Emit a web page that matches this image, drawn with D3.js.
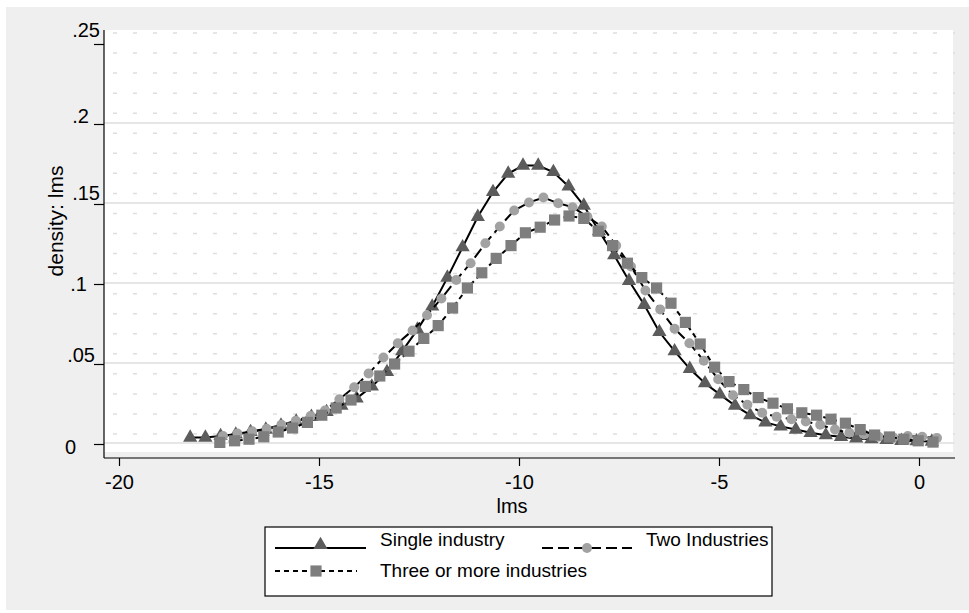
<!DOCTYPE html>
<html>
<head>
<meta charset="utf-8">
<script src="https://cdn.jsdelivr.net/npm/d3@7"></script>
<style>
body { margin: 0; background: #fff; }
text { font-family: "Liberation Sans", Arial, sans-serif; fill: #000; }
</style>
</head>
<body>
<svg id="chart" width="969" height="613"></svg>
<script>
// kernel density estimates (50 grid points each)
var singleX = [-18.22,-17.84,-17.46,-17.08,-16.71,-16.33,-15.95,-15.57,-15.19,-14.81,
	-14.44,-14.06,-13.68,-13.30,-12.92,-12.54,-12.17,-11.79,-11.41,-11.03,
	-10.65,-10.27,-9.90,-9.52,-9.14,-8.76,-8.38,-8.00,-7.62,-7.25,
	-6.87,-6.49,-6.11,-5.73,-5.35,-4.98,-4.60,-4.22,-3.84,-3.46,
	-3.08,-2.71,-2.33,-1.95,-1.57,-1.19,-0.81,-0.44,-0.06,0.32];
var singleY = [0.004,0.004,0.005,0.006,0.0075,0.009,0.0115,0.014,0.017,0.020,
	0.024,0.0285,0.036,0.045,0.058,0.0715,0.086,0.104,0.123,0.142,
	0.1575,0.169,0.174,0.174,0.170,0.161,0.149,0.133,0.118,0.102,
	0.087,0.070,0.058,0.047,0.038,0.031,0.024,0.018,0.0135,0.011,
	0.009,0.007,0.0055,0.0045,0.0035,0.003,0.0025,0.002,0.0018,0.0015];

var twoX = [-17.40,-17.04,-16.67,-16.31,-15.94,-15.58,-15.21,-14.85,-14.49,-14.12,
	-13.76,-13.39,-13.03,-12.66,-12.30,-11.94,-11.57,-11.21,-10.84,-10.48,
	-10.12,-9.75,-9.39,-9.02,-8.66,-8.29,-7.93,-7.57,-7.20,-6.84,
	-6.47,-6.11,-5.74,-5.38,-5.02,-4.65,-4.29,-3.92,-3.56,-3.19,
	-2.83,-2.47,-2.10,-1.74,-1.37,-1.01,-0.64,-0.28,0.08,0.45];
var twoY = [0.005,0.0065,0.008,0.0095,0.012,0.0145,0.0175,0.021,0.028,0.0355,
	0.044,0.054,0.063,0.071,0.0805,0.091,0.1025,0.113,0.1255,0.136,
	0.146,0.151,0.154,0.1505,0.148,0.142,0.136,0.124,0.111,0.096,
	0.084,0.072,0.063,0.052,0.0405,0.0305,0.0245,0.0195,0.017,0.0155,
	0.014,0.012,0.009,0.007,0.006,0.0045,0.004,0.005,0.0045,0.0037];

var threeX = [-17.48,-17.11,-16.75,-16.38,-16.02,-15.66,-15.29,-14.93,-14.57,-14.20,
	-13.84,-13.48,-13.11,-12.75,-12.38,-12.02,-11.66,-11.29,-10.93,-10.57,
	-10.20,-9.84,-9.47,-9.11,-8.75,-8.38,-8.02,-7.66,-7.29,-6.93,
	-6.56,-6.20,-5.84,-5.47,-5.11,-4.75,-4.38,-4.02,-3.65,-3.29,
	-2.93,-2.56,-2.20,-1.84,-1.47,-1.11,-0.74,-0.38,-0.02,0.35];
var threeY = [0.001,0.002,0.003,0.0045,0.0075,0.010,0.0135,0.018,0.0225,0.0275,
	0.036,0.0425,0.050,0.058,0.066,0.074,0.085,0.0975,0.107,0.116,
	0.124,0.132,0.1355,0.140,0.1425,0.141,0.133,0.124,0.113,0.104,
	0.0975,0.088,0.076,0.0625,0.048,0.039,0.034,0.029,0.0255,0.022,
	0.0195,0.018,0.0155,0.013,0.009,0.0056,0.0044,0.003,0.002,0.0012];

var seriesNames = ['Single industry', 'Two Industries', 'Three or more industries'];
var xTicks = [-20, -15, -10, -5, 0];
var yTicks = [0, 0.05, 0.1, 0.15, 0.2, 0.25];

var svg = d3.select('#chart');

// outer gray panel and white plot region
svg.append('rect').attr('x', 6).attr('y', 7).attr('width', 963).attr('height', 603).attr('fill', '#efefef');
svg.append('rect').attr('x', 104).attr('y', 30).attr('width', 849).attr('height', 422).attr('fill', '#fff');

var x = d3.scaleLinear().domain([-20, 0]).range([119, 919]);
var y = d3.scaleLinear().domain([0, 0.25]).range([444, 44]);

// faint dotted background grid
svg.append('g').selectAll('line')
	.data(d3.range(21))
	.enter()
	.append('line')
	.attr('x1', 113).attr('x2', 955)
	.attr('y1', function(d) { return 33 + d * 20.05 })
	.attr('y2', function(d) { return 33 + d * 20.05 })
	.style('stroke', '#dedede')
	.style('stroke-width', 1.5)
	.style('stroke-dasharray', '4,16');

// major gridlines
svg.append('g').selectAll('line')
	.data(yTicks.filter(function(d) { return d < 0.25 }))
	.enter()
	.append('line')
	.attr('x1', 104).attr('x2', 955)
	.attr('y1', function(d) { return y(d) - 1 })
	.attr('y2', function(d) { return y(d) - 1 })
	.style('stroke', '#e6e6e6')
	.style('stroke-width', 2);

// axes
var xAxis = svg.append('g')
	.attr('transform', 'translate(0,458)')
	.call(d3.axisBottom(x).tickValues(xTicks).tickSize(8).tickPadding(9)
		.tickFormat(function(d) { return String(d) }));
xAxis.select('.domain').attr('d', 'M104,0H955');

var yAxis = svg.append('g')
	.attr('transform', 'translate(104,0)')
	.call(d3.axisLeft(y).tickValues(yTicks).tickSize(10).tickPadding(0)
		.tickFormat(function(d) { return d === 0 ? '0' : d3.format('.2~f')(d).replace(/^0/, '') }));
yAxis.select('.domain').attr('d', 'M0,30V458');

// small label shifts so the y labels sit where the original puts them
var labelShift = { 0: [-18, 2.6], 0.05: [1, -9.4], 0.1: [-7, -0.4], 0.15: [6, -11.4], 0.2: [-5, -8.4], 0.25: [6, -14.4] };
yAxis.selectAll('.tick text')
	.attr('dx', function(d) { return labelShift[d][0] })
	.attr('dy', function(d) { return (0.32 * 20 + labelShift[d][1]) + 'px' });

svg.selectAll('.tick text').style('font-size', '20px').style('font-family', '"Liberation Sans", Arial, sans-serif');
svg.selectAll('.domain, .tick line').style('stroke', '#000').style('stroke-width', 1.2);

// axis titles
svg.append('text')
	.attr('x', 512).attr('y', 513)
	.attr('text-anchor', 'middle')
	.style('font-size', '20px')
	.text('lms');
svg.append('text')
	.attr('transform', 'translate(63,221) rotate(-90)')
	.attr('text-anchor', 'middle')
	.style('font-size', '21px')
	.text('density: lms');

// series
var series = [
	{ xs: singleX, ys: singleY, dash: null, shape: d3.symbolTriangle, size: 88, color: '#5c5c5c' },
	{ xs: twoX, ys: twoY, dash: '11,5', shape: d3.symbolCircle, size: 78, color: '#a2a2a2' },
	{ xs: threeX, ys: threeY, dash: '5,4', shape: d3.symbolSquare, size: 125, color: '#7e7e7e' }
];

var line = d3.line()
	.x(function(p) { return x(p[0]) })
	.y(function(p) { return y(p[1]) });

series.forEach(function(s) {
	var pts = s.xs.map(function(v, i) { return [v, s.ys[i]] });
	svg.append('path')
		.datum(pts)
		.attr('d', line)
		.style('fill', 'none')
		.style('stroke', '#000')
		.style('stroke-width', 2)
		.style('stroke-dasharray', s.dash);
	svg.append('g').selectAll('path')
		.data(pts)
		.enter()
		.append('path')
		.attr('transform', function(p) { return 'translate(' + x(p[0]) + ',' + y(p[1]) + ')' })
		.attr('d', d3.symbol().type(s.shape).size(s.size))
		.style('fill', s.color);
});

// legend
var legend = svg.append('g');
legend.append('rect')
	.attr('x', 265).attr('y', 527).attr('width', 507).attr('height', 69)
	.style('fill', '#fff').style('stroke', '#000').style('stroke-width', 1.2);

var legendPos = [
	{ lx: 275, lw: 91, ly: 548, tx: 380, ty: 546 },
	{ lx: 542, lw: 90, ly: 548, tx: 646, ty: 546 },
	{ lx: 275, lw: 82, ly: 571, tx: 380, ty: 577 }
];

series.forEach(function(s, i) {
	var p = legendPos[i];
	legend.append('line')
		.attr('x1', p.lx).attr('x2', p.lx + p.lw)
		.attr('y1', p.ly).attr('y2', p.ly)
		.style('stroke', '#000')
		.style('stroke-width', 2)
		.style('stroke-dasharray', s.dash);
	legend.append('path')
		.attr('transform', 'translate(' + (p.lx + p.lw / 2) + ',' + (p.ly - (i == 0 ? 3 : 0)) + ')')
		.attr('d', d3.symbol().type(s.shape).size(s.size))
		.style('fill', s.color);
	legend.append('text')
		.attr('x', p.tx).attr('y', p.ty)
		.style('font-size', '19px')
		.text(seriesNames[i]);
});
</script>
</body>
</html>
